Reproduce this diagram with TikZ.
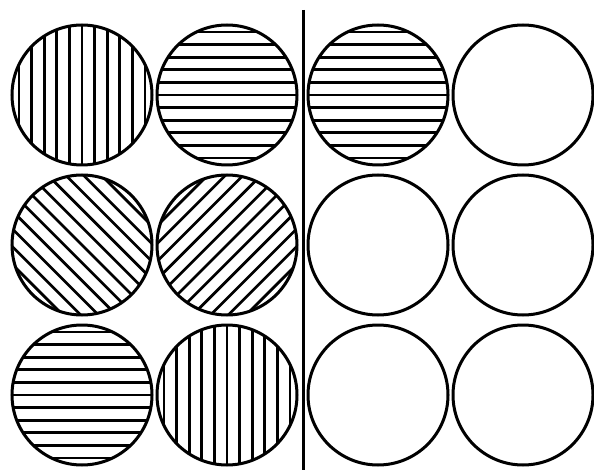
\documentclass[tikz,border=0pt]{standalone}
\begin{document}
\begin{tikzpicture}[x=1pt,y=-1pt,
  disc/.style={circle,draw,line width=3pt,minimum size=140pt,inner sep=0pt},
  hatch/.style={path picture={
    \foreach \k in {-6,...,6}
      \draw[line width=2.7pt] (path picture bounding box.center)
        ++(#1:\k*12.6pt) ++(#1+90:80pt) -- ++(#1-90:160pt);}}]
\useasboundingbox (0,0) rectangle (594,470);
% left half
\node[disc,hatch=0] (a1) at (82,95) {};
\node[disc,hatch=90] (b1) at (227,95) {};
\node[disc,hatch=45] (a2) at (82,245) {};
\node[disc,hatch=-45] (b2) at (227,245) {};
\node[disc,hatch=90] (a3) at (82,395) {};
\node[disc,hatch=0] (b3) at (227,395) {};
% right half
\node[disc,hatch=90] (c1) at (378,95) {};
\node[disc] (d1) at (523,95) {};
\node[disc] (c2) at (378,245) {};
\node[disc] (d2) at (523,245) {};
\node[disc] (c3) at (378,395) {};
\node[disc] (d3) at (523,395) {};
% divider
\coordinate (top) at (303,10);
\coordinate (bot) at (303,470);
\draw[line width=3pt] (top) -- (bot);
\end{tikzpicture}
\end{document}
